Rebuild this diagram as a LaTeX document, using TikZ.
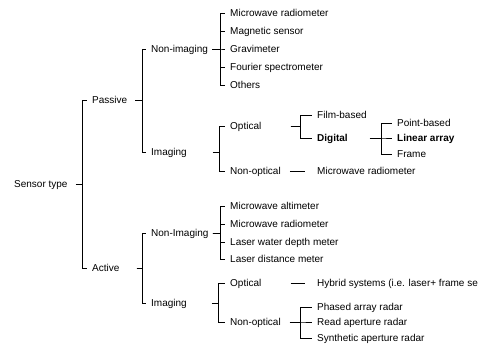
\documentclass[tikz,border=0pt]{standalone}
\usepackage{fontspec}
\setmainfont{Liberation Sans}
\newcommand\brk[4]{\foreach \c in {#4}{\draw[ln] ([xshift=#2]#1.east) -- (#1.east -| #3) |- ([xshift=-5pt]\c.west);}}
\begin{document}
\begin{tikzpicture}[x=1pt,y=-1pt,
  lab/.style={inner sep=0pt, anchor=west, text height=7pt, text depth=0.5pt, font=\fontsize{10}{12}\selectfont},
  ln/.style={line width=0.8pt}]
\useasboundingbox (0,0) rectangle (480,347);
\clip (0,0) rectangle (480,347);
% nodes
\node[lab] (st) at (14,184) {Sensor type};
\node[lab] (pas) at (92,100) {Passive};
\node[lab] (act) at (92,268) {Active};
\node[lab] (pni) at (151,49) {Non-imaging};
\node[lab] (pim) at (151,152) {Imaging};
\node[lab] (p1) at (230,13) {Microwave radiometer};
\node[lab] (p2) at (230,31) {Magnetic sensor};
\node[lab] (p3) at (230,49) {Gravimeter};
\node[lab] (p4) at (230,67) {Fourier spectrometer};
\node[lab] (p5) at (230,85) {Others};
\node[lab] (pop) at (230,126) {Optical};
\node[lab] (pno) at (230,171) {Non-optical};
\node[lab] (film) at (317,115) {Film-based};
\node[lab] (dig) at (317,138) {\bfseries Digital};
\node[lab] (pt) at (397,123) {Point-based};
\node[lab] (lin) at (397,138) {\bfseries Linear array};
\node[lab] (fr) at (397,154) {Frame};
\node[lab] (pmr) at (317,171) {Microwave radiometer};
\node[lab] (ani) at (151,233) {Non-Imaging};
\node[lab] (a1) at (230,206) {Microwave altimeter};
\node[lab] (a2) at (230,224) {Microwave radiometer};
\node[lab] (a3) at (230,242) {Laser water depth meter};
\node[lab] (a4) at (230,259) {Laser distance meter};
\node[lab] (aim) at (151,303) {Imaging};
\node[lab] (aop) at (230,283) {Optical};
\node[lab] (ano) at (230,322) {Non-optical};
\node[lab] (hyb) at (317,283) {Hybrid systems (i.e. laser+ frame se};
\node[lab] (r1) at (317,307) {Phased array radar};
\node[lab] (r2) at (317,322) {Read aperture radar};
\node[lab] (r3) at (317,338) {Synthetic aperture radar};
% bracket columns
\coordinate (bst) at (82,0);
\coordinate (bpas) at (142,0);
\coordinate (bact) at (142,0);
\coordinate (bpni) at (220,0);
\coordinate (bpim) at (219,0);
\coordinate (bpop) at (300,0);
\coordinate (bdig) at (381,0);
\coordinate (bani) at (220,0);
\coordinate (baim) at (218,0);
\coordinate (bano) at (300,0);
% connectors
\brk{st}{8pt}{bst}{pas,act}
\brk{pas}{8pt}{bpas}{pni,pim}
\brk{act}{17pt}{bact}{ani,aim}
\brk{pni}{4pt}{bpni}{p1,p2,p3,p4,p5}
\brk{pim}{26pt}{bpim}{pop,pno}
\brk{pop}{29pt}{bpop}{film,dig}
\brk{dig}{22pt}{bdig}{pt,lin,fr}
\draw[ln] ([xshift=9pt]pno.east) -- ([xshift=-12pt]pmr.west);
\brk{ani}{4pt}{bani}{a1,a2,a3,a4}
\brk{aim}{25pt}{baim}{aop,ano}
\draw[ln] ([xshift=29pt]aop.east) -- ([xshift=-12pt]hyb.west);
\brk{ano}{9pt}{bano}{r1,r2,r3}
\end{tikzpicture}
\end{document}
